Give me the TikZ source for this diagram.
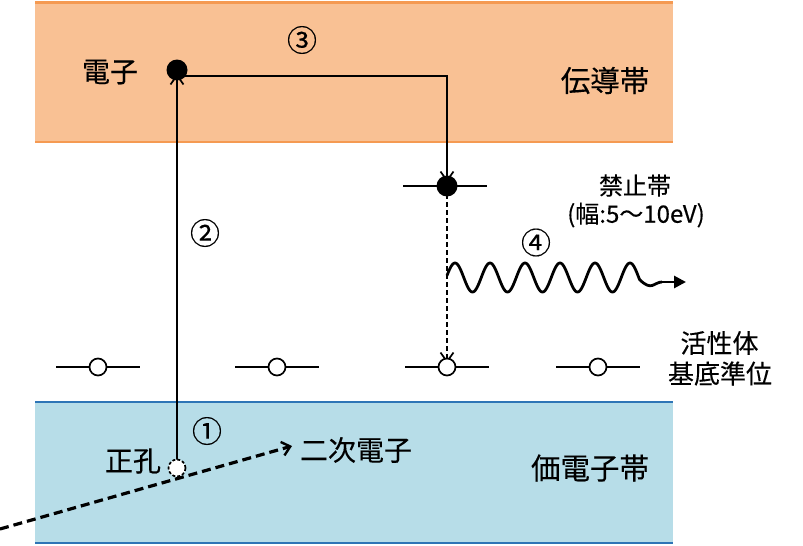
\documentclass[tikz,border=0pt]{standalone}
\usepackage{fontspec}
\setmainfont{Noto Sans CJK JP}[FakeBold=0.3]
\usetikzlibrary{arrows.meta}
\definecolor{cbfill}{HTML}{F9C194}
\definecolor{cbline}{HTML}{F59A52}
\definecolor{vbfill}{HTML}{B7DDE8}
\definecolor{vbline}{HTML}{2E75B6}
\tikzset{
  lbl/.style={font=\fontsize{28}{30}\selectfont, inner sep=0pt},
  numlbl/.style={font=\fontsize{30}{32}\selectfont, inner sep=0pt},
  bandlbl/.style={font=\fontsize{29.5}{31}\selectfont, inner sep=0pt},
  midlbl/.style={font=\fontsize{26}{28}\selectfont, inner sep=0pt},
  smalllbl/.style={font=\fontsize{24}{26}\selectfont, inner sep=0pt},
  levelline/.style={line width=2pt},
  hollow/.style={circle, draw, line width=1.7pt, fill=white, minimum size=17pt, inner sep=0pt},
  filled/.style={circle, fill=black, minimum size=21pt, inner sep=0pt},
  barb/.style={-{Straight Barb[length=9pt,width=13pt,line width=1.7pt]}},
}
\begin{document}
\begin{tikzpicture}[x=1pt,y=-1pt]
\useasboundingbox (0,0) rectangle (803,546);
% bands
\fill[cbfill] (35,2) rectangle (673,142);
\draw[cbline, line width=3pt] (35,2) -- (673,2);
\draw[cbline, line width=2.5pt] (35,142) -- (673,142);
\fill[vbfill] (35,402) rectangle (673,543);
\draw[vbline, line width=2.2pt] (35,402) -- (673,402);
\draw[vbline, line width=2.8pt] (35,543) -- (673,543);

% labels
\node[numlbl] (t3) at (302,40) {③};
\node[lbl] (tel) at (110,72) {電子};
\node[bandlbl] (tcb) at (605,80.5) {伝導帯};
\node[smalllbl] (tgap) at (635,185.5) {禁止帯};
\node[smalllbl] (tgapw) at (636,215) {(幅:5～10eV)};
\node[numlbl] (t2) at (205,233) {②};
\node[numlbl] (t4) at (536,242.5) {④};
\node[midlbl] (tact1) at (719.5,343) {活性体};
\node[midlbl] (tact2) at (720,373.5) {基底準位};
\node[numlbl] (t1) at (207,431) {①};
\node[lbl] (thole) at (133,461) {正孔};
\node[lbl] (tsec) at (356,450) {二次電子};
\node[bandlbl] (tvb) at (590,468) {価電子帯};

% ground levels
\foreach \i/\x in {a/98,b/277,c/447,d/598} {
  \coordinate (gl\i) at (\x-42,367);
  \coordinate (gr\i) at (\x+42,367);
  \draw[levelline] (gl\i) -- (gr\i);
}
% trap level
\coordinate (trl) at (403,186);
\coordinate (trr) at (487,186);
\draw[levelline] (trl) -- (trr);

% coordinates
\coordinate (holec) at (177,468);
\coordinate (elc) at (177,70);
\coordinate (corner) at (447,76);
\coordinate (trapc) at (447,186);
\coordinate (gndc) at (447,367);

% transition 2: hole -> electron
\draw[line width=2pt, barb] (holec) -- ([yshift=-4pt]elc);
% transition 3: electron -> trap
\draw[line width=2pt, barb] (177,76) -- (corner) -- ([yshift=4pt]trapc);
% trap -> ground (dashed)
\draw[line width=1.9pt, dash pattern=on 5pt off 3pt, barb] (trapc) -- ([yshift=4pt]gndc);

% circles
\node[filled] (el) at (elc) {};
\node[filled] (trap) at (trapc) {};
\foreach \i/\x in {a/98,b/277,c/447,d/598} {
  \node[hollow] (g\i) at (\x,367) {};
}

% secondary electron
\coordinate (secstart) at (0,529);
\coordinate (secend) at (292,446);
\draw[line width=3.2pt, dash pattern=on 9pt off 5pt, -{Straight Barb[length=8pt,width=14pt,line width=2.4pt]}] (secstart) -- (secend);
\node[circle, draw, dash pattern=on 3pt off 2pt, line width=1.7pt, fill=white, minimum size=17pt, inner sep=0pt] (hole) at (holec) {};

% photon
\draw[line width=2.8pt, line join=round]
  plot[domain=0:192.5, samples=240, smooth] ({447+\x}, {277.5-14.5*cos(10.2857*(\x-8))})
  .. controls (652,292) and (654,282) .. (662,282) coordinate (phend);
\coordinate (photontip) at (686,282);
\draw[line width=2.8pt, -{Triangle[length=12pt,width=12pt]}] (phend) -- (photontip);
\end{tikzpicture}
\end{document}
